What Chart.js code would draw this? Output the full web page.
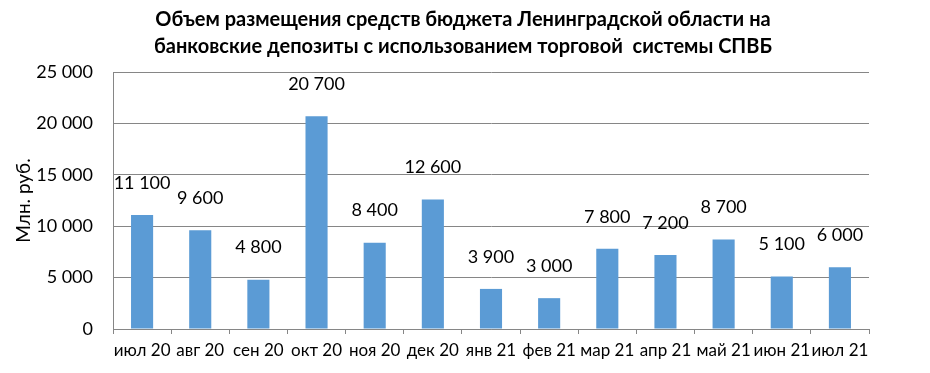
<!DOCTYPE html>
<html>
<head>
<meta charset="utf-8">
<script src="https://cdn.jsdelivr.net/npm/chart.js@4/dist/chart.umd.min.js"></script>
<style>
  html, body { margin: 0; padding: 0; background: #fff; }
  #wrap { width: 930px; height: 373px; }
</style>
</head>
<body>
<div id="wrap"><canvas id="chart"></canvas></div>
<script>
// месяцы и объем размещения, млн. руб.
var months = ["июл 20", "авг 20", "сен 20", "окт 20", "ноя 20", "дек 20",
              "янв 21", "фев 21", "мар 21", "апр 21", "май 21", "июн 21", "июл 21"];
var volumes = [11100, 9600, 4800, 20700, 8400, 12600, 3900, 3000, 7800, 7200, 8700, 5100, 6000];
var titleLines = ["Объем размещения средств бюджета Ленинградской области на",
                  "банковские депозиты с использованием торговой  системы СПВБ"];
var axisTitle = "Млн. руб.";

var FONT = 'Lato, "Open Sans", sans-serif';

// число с пробелом между тысячами: 20700 -> "20 700"
var fmt = function(v) {
    return String(v).replace(/\B(?=(\d{3})+(?!\d))/g, " ");
};

// заголовок рисуем сами, чтобы он стоял по центру всей картинки
var chartTitle = {
    id: 'chartTitle',
    afterDraw: function(chart) {
        var ctx = chart.ctx;
        ctx.save();
        ctx.font = 'bold 20px ' + FONT;
        ctx.fillStyle = "#000";
        ctx.textAlign = "center";
        ctx.textBaseline = "middle";
        titleLines.forEach(function(line, i) {
            ctx.fillText(line, 463, 20 + i * 27);
        });
        ctx.restore();
    }
};

// подписи значений над столбиками
var valueLabels = {
    id: 'valueLabels',
    afterDatasetsDraw: function(chart) {
        var ctx = chart.ctx;
        var meta = chart.getDatasetMeta(0);
        ctx.save();
        ctx.font = '18px ' + FONT;
        ctx.fillStyle = "#000";
        ctx.textAlign = "center";
        ctx.textBaseline = "middle";
        meta.data.forEach(function(bar, i) {
            ctx.fillText(fmt(volumes[i]), bar.x, bar.y - 32);
        });
        ctx.restore();
    }
};

var ctx = document.getElementById("chart").getContext('2d');
var myChart = new Chart(ctx, {
    type: 'bar',
    data: {
        labels: months,
        datasets: [{
            data: volumes,
            backgroundColor: "#5B9BD5",
            barPercentage: 0.38,
            categoryPercentage: 1.0
        }]
    },
    options: {
        responsive: true,
        maintainAspectRatio: false,
        animation: false,
        layout: { padding: { left: 0, right: 61, top: 72, bottom: 0 } },
        plugins: {
            legend: { display: false },
            tooltip: { enabled: false },
            title: { display: false }
        },
        scales: {
            x: {
                grid: {
                    drawOnChartArea: false,
                    drawTicks: true,
                    tickLength: 5,
                    color: "#868686"
                },
                border: { color: "#868686" },
                ticks: {
                    color: "#000",
                    padding: 6,
                    maxRotation: 0,
                    autoSkip: false,
                    font: { family: FONT, size: 17 }
                },
                afterFit: function(scale) { scale.height = 44; }
            },
            y: {
                min: 0,
                max: 25000,
                grid: { color: "#868686", drawTicks: false },
                border: { display: true, color: "#868686" },
                ticks: {
                    stepSize: 5000,
                    color: "#000",
                    padding: 20,
                    font: { family: FONT, size: 18 },
                    callback: function(v) { return fmt(v); }
                },
                title: {
                    display: true,
                    text: axisTitle,
                    color: "#000",
                    font: { family: FONT, size: 19 },
                    padding: { top: 12, bottom: 0 }
                },
                afterFit: function(scale) { scale.width = 113; }
            }
        }
    },
    plugins: [chartTitle, valueLabels]
});
</script>
</body>
</html>
